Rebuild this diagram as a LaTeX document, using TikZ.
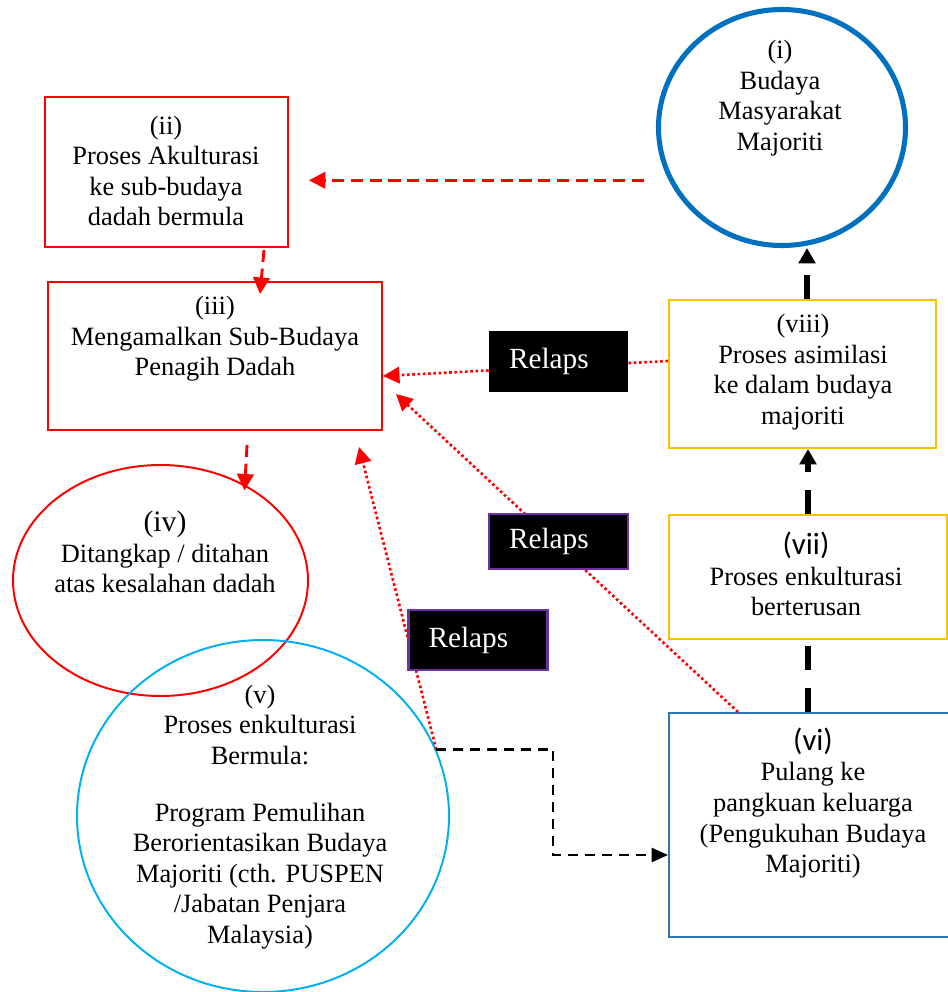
\documentclass[tikz,border=0pt]{standalone}
\usepackage{fontspec}
\setmainfont{Liberation Serif}
\newfontfamily\calibri{Carlito}
\usetikzlibrary{shapes.geometric,arrows.meta,calc}
\newcommand{\pxu}{0.4545pt}
\definecolor{majblue}{RGB}{0,112,192}
\definecolor{pulblue}{RGB}{46,117,182}
\definecolor{pemcyan}{RGB}{0,176,240}
\definecolor{asigold}{RGB}{255,192,0}
\definecolor{relpurple}{RGB}{112,48,160}
\tikzset{
  txt/.style={align=center, inner sep=0pt, font=\fontsize{12}{13.9}\selectfont},
  box/.style={draw, rectangle, inner sep=0pt, line width=0.9pt},
  oval/.style={draw, ellipse, inner sep=0pt, line width=0.9pt},
  relaps/.style={fill=black, text=white, align=left, inner ysep=0pt,
    inner xsep=20*\pxu, text width=99*\pxu, font=\fontsize{13.3}{15}\selectfont},
  reddash/.style={red, line width=1.3pt, dash pattern=on 5.5pt off 3pt,
    -{Triangle[length=7.5pt,width=7.5pt]}},
  reddot/.style={red, line width=1.2pt, dash pattern=on 1.2pt off 1.2pt,
    -{Triangle[length=7.5pt,width=7.5pt]}},
  blkthick/.style={black, line width=2.3pt, dash pattern=on 11pt off 8pt,
    -{Triangle[length=7pt,width=7.5pt]}},
  blkthin/.style={black, line width=1pt, dash pattern=on 4.5pt off 3.2pt,
    -{Triangle[length=7.5pt,width=6.5pt]}}
}

\begin{document}
\begin{tikzpicture}[x=\pxu, y=-\pxu]
  \useasboundingbox (0,0) rectangle (948,992);

  % Shapes
  \node[oval, draw=majblue, line width=2.3pt, minimum width=247*\pxu, minimum height=236*\pxu] (majoriti) at (782,127.5) {};
  \node[box, draw=red, minimum width=243*\pxu, minimum height=150*\pxu] (akulturasi) at (166.5,172) {};
  \node[box, draw=red, minimum width=334*\pxu, minimum height=148*\pxu] (subbudaya) at (215,356) {};
  \node[oval, draw=red, minimum width=295*\pxu, minimum height=231*\pxu] (ditangkap) at (160.5,580.5) {};
  \node[oval, draw=pemcyan, minimum width=372*\pxu, minimum height=352*\pxu] (pemulihan) at (263,816) {};
  \node[box, draw=asigold, minimum width=267*\pxu, minimum height=148*\pxu] (asimilasi) at (802.5,374) {};
  \node[box, draw=asigold, minimum width=278*\pxu, minimum height=124*\pxu] (enkul) at (808,577) {};
  \node[box, draw=pulblue, minimum width=288*\pxu, minimum height=224*\pxu] (pulang) at (813,825) {};

  % Texts
  \node[txt] (majoriti-t) at (780,98) {(i)\\Budaya\\Masyarakat\\Majoriti};
  \node[txt] (akulturasi-t) at (166,171) {(ii)\\Proses Akulturasi\\ke sub-budaya\\dadah bermula};
  \node[txt] (subbudaya-t) at (215,339) {(iii)\\Mengamalkan Sub-Budaya\\Penagih Dadah};
  \node[txt] (ditangkap-t) at (165,552) {{\fontsize{13.5}{15}\selectfont (iv)}\\Ditangkap / ditahan\\atas kesalahan dadah};
  \node[txt] (pemulihan-t) at (260,817) {(v)\\Proses enkulturasi\\Bermula:\\[12pt]Program Pemulihan\\Berorientasikan Budaya\\Majoriti (cth. PUSPEN\\/Jabatan Penjara\\Malaysia)};
  \node[txt] (asimilasi-t) at (803,372) {(viii)\\Proses asimilasi\\ke dalam budaya\\majoriti};
  \node[txt] (enkul-t) at (806,574) {{\calibri\fontsize{14}{16}\selectfont (vii)}\\Proses enkulturasi\\berterusan};
  \node[txt] (pulang-t) at (813,803) {{\calibri\fontsize{14}{16}\selectfont (vi)}\\Pulang ke\\pangkuan keluarga\\(Pengukuhan Budaya\\Majoriti)};

  % Red arrows
  \draw[reddash, shorten <=25*\pxu, shorten >=20*\pxu] (majoriti.205) -- (majoriti.205 -| akulturasi.east);
  \draw[reddash] ($(akulturasi.south)+(97.5,2)$) -- ($(subbudaya.north)+(45,13)$);
  \draw[reddash] ($(subbudaya.south)+(32,14)$) -- ($(ditangkap.center)+(84,-90)$);

  % Relaps arrows
  \draw[reddot] ($(asimilasi.west)+(0,-13)$) -- ($(subbudaya.east)+(0,20)$);
  \draw[reddot] ($(pulang.north)+(-75,0)$) -- ($(subbudaya.east)+(13,38)$);
  \draw[reddot] (pemulihan.21) -- ($(subbudaya.south)+(144,16)$);

  % Black arrows
  \coordinate (atas) at ($(asimilasi.north)+(4.5,0)$);
  \draw[blkthick] (atas) -- (atas |- majoriti.south);
  \draw[blkthick] (enkul.north) -- (enkul.north |- asimilasi.south);
  \draw[blkthick, -] (pulang.north -| enkul.north) -- (enkul.south);
  \draw[blkthin] (pemulihan.21) -- ++(117,0) |- ($(pulang.west)+(0,30)$);

  % Relaps labels
  \node[relaps, minimum height=61*\pxu] (relapsa) at (558.5,361.5) {Relaps};
  \node[relaps, draw=relpurple, line width=1pt, minimum height=55*\pxu] (relapsb) at (558.5,541.5) {Relaps};
  \node[relaps, draw=relpurple, line width=1pt, minimum height=60*\pxu] (relapsc) at (478,640) {Relaps};
\end{tikzpicture}
\end{document}
